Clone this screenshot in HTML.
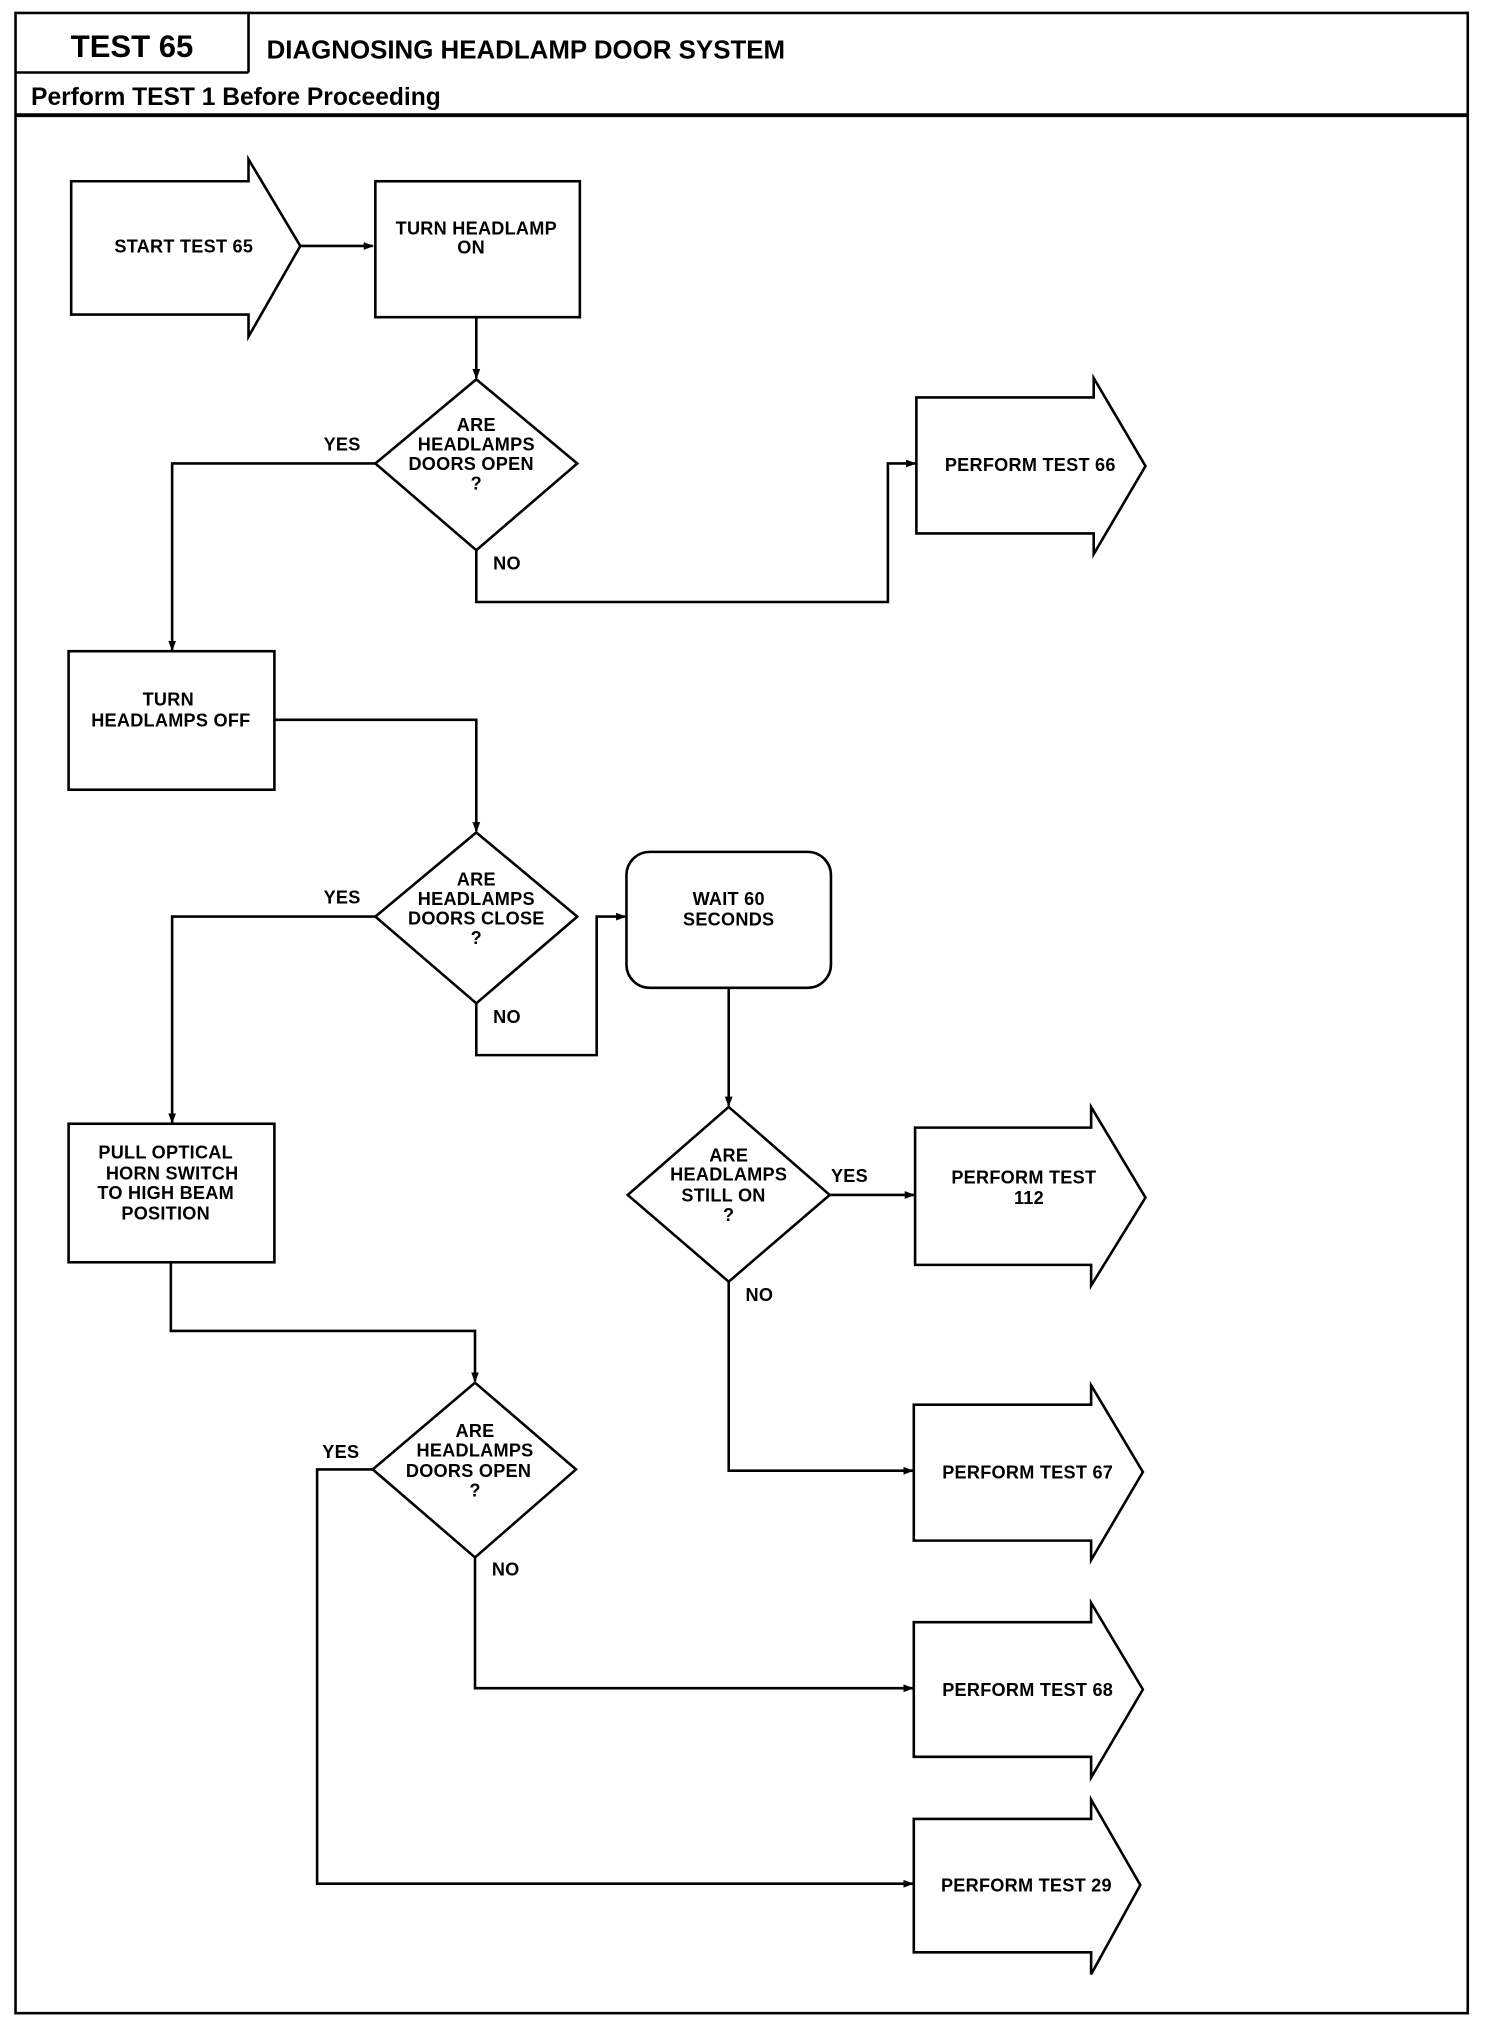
<!DOCTYPE html>
<html><head><meta charset="utf-8"><style>
html,body{margin:0;padding:0;background:#fff;}
svg{display:block;}
text{font-family:"Liberation Sans",sans-serif;fill:#000;}
.n{font-size:14px;font-weight:bold;text-anchor:middle;letter-spacing:0.2px;}
.l{font-size:14px;font-weight:bold;letter-spacing:0.2px;}
</style></head><body>
<svg width="1504" height="2030" viewBox="0 0 1162 1568" preserveAspectRatio="none" xmlns="http://www.w3.org/2000/svg">
<defs><marker id="a" markerWidth="8" markerHeight="8" refX="7" refY="4" orient="auto" markerUnits="userSpaceOnUse"><path d="M0,1 L8,4 L0,7 Z" fill="#000"/></marker></defs>
<g fill="none" stroke="#000" stroke-width="2">
<rect x="12" y="10" width="1122" height="1545"/>
<line x1="12" y1="56" x2="192" y2="56"/>
<line x1="192" y1="10" x2="192" y2="56"/>
<line x1="12" y1="89" x2="1134" y2="89" stroke-width="3"/>
<path d="M55,140 H192 V123 L232,190 L192,260 V243 H55 Z"/>
<rect x="290" y="140" width="158" height="105"/>
<line x1="232" y1="190" x2="288" y2="190" marker-end="url(#a)"/>
<line x1="368" y1="245" x2="368" y2="292" marker-end="url(#a)"/>
<path d="M368,293 L446,358 L368,425 L290,358 Z"/>
<polyline points="290,358 133,358 133,502" marker-end="url(#a)"/>
<polyline points="368,425 368,465 686,465 686,358 707,358" marker-end="url(#a)"/>
<path d="M708,307 H845 V292 L885,360 L845,428 V412 H708 Z"/>
<rect x="53" y="503" width="159" height="107"/>
<polyline points="212,556 368,556 368,642" marker-end="url(#a)"/>
<path d="M368,643 L446,708 L368,775 L290,708 Z"/>
<polyline points="290,708 133,708 133,867" marker-end="url(#a)"/>
<polyline points="368,775 368,815 461,815 461,708 483,708" marker-end="url(#a)"/>
<rect x="484" y="658" width="158" height="105" rx="18"/>
<line x1="563" y1="763" x2="563" y2="854" marker-end="url(#a)"/>
<path d="M563,855 L641,923 L563,990 L485,923 Z"/>
<line x1="641" y1="923" x2="706" y2="923" marker-end="url(#a)"/>
<path d="M707,871 H843 V855 L885,925 L843,993 V977 H707 Z"/>
<polyline points="563,990 563,1136 705,1136" marker-end="url(#a)"/>
<path d="M706,1085 H843 V1070 L883,1137 L843,1205 V1190 H706 Z"/>
<rect x="53" y="868" width="159" height="107"/>
<polyline points="132,975 132,1028 367,1028 367,1067" marker-end="url(#a)"/>
<path d="M367,1068 L445,1135 L367,1203 L288,1135 Z"/>
<polyline points="288,1135 245,1135 245,1455 705,1455" marker-end="url(#a)"/>
<polyline points="367,1203 367,1304 705,1304" marker-end="url(#a)"/>
<path d="M706,1253 H843 V1238 L883,1305 L843,1373 V1357 H706 Z"/>
<path d="M706,1405 H843 V1390 L881,1456 L843,1525 V1508 H706 Z"/>
</g>
<text x="102" y="44" style="font-size:24px;font-weight:bold;text-anchor:middle">TEST 65</text>
<text x="206" y="45" style="font-size:20px;font-weight:bold">DIAGNOSING HEADLAMP DOOR SYSTEM</text>
<text x="24" y="81" style="font-size:19px;font-weight:bold">Perform TEST 1 Before Proceeding</text>
<text class="n" x="142" y="195">START TEST 65</text>
<text class="n" x="368" y="181">TURN HEADLAMP</text><text class="n" x="364" y="196">ON</text>
<text class="n" x="368" y="333">ARE</text><text class="n" x="368" y="348">HEADLAMPS</text><text class="n" x="364" y="363">DOORS OPEN</text><text class="n" x="368" y="378">?</text>
<text class="l" x="250" y="348">YES</text><text class="l" x="381" y="440">NO</text>
<text class="n" x="796" y="364">PERFORM TEST 66</text>
<text class="n" x="130" y="545">TURN</text><text class="n" x="132" y="561">HEADLAMPS OFF</text>
<text class="n" x="368" y="684">ARE</text><text class="n" x="368" y="699">HEADLAMPS</text><text class="n" x="368" y="714">DOORS CLOSE</text><text class="n" x="368" y="729">?</text>
<text class="l" x="250" y="698">YES</text><text class="l" x="381" y="790">NO</text>
<text class="n" x="563" y="699">WAIT 60</text><text class="n" x="563" y="715">SECONDS</text>
<text class="n" x="563" y="897">ARE</text><text class="n" x="563" y="912">HEADLAMPS</text><text class="n" x="559" y="928">STILL ON</text><text class="n" x="563" y="943">?</text>
<text class="l" x="642" y="913">YES</text><text class="l" x="576" y="1005">NO</text>
<text class="n" x="791" y="914">PERFORM TEST</text><text class="n" x="795" y="930">112</text>
<text class="n" x="794" y="1142">PERFORM TEST 67</text>
<text class="n" x="128" y="895">PULL OPTICAL</text><text class="n" x="133" y="911">HORN SWITCH</text><text class="n" x="128" y="926">TO HIGH BEAM</text><text class="n" x="128" y="942">POSITION</text>
<text class="n" x="367" y="1110">ARE</text><text class="n" x="367" y="1125">HEADLAMPS</text><text class="n" x="362" y="1141">DOORS OPEN</text><text class="n" x="367" y="1156">?</text>
<text class="l" x="249" y="1126">YES</text><text class="l" x="380" y="1217">NO</text>
<text class="n" x="794" y="1310">PERFORM TEST 68</text>
<text class="n" x="793" y="1461">PERFORM TEST 29</text>
</svg>
</body></html>
